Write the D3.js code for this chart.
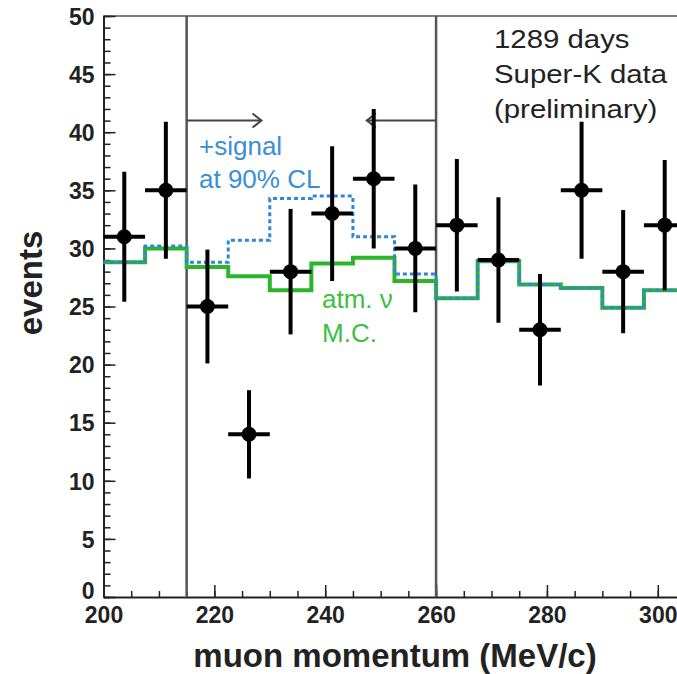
<!DOCTYPE html>
<html>
<head>
<meta charset="utf-8">
<script src="https://cdn.jsdelivr.net/npm/d3@7"></script>
<style>
  body { margin: 0; background: #fff; }
  svg { display: block; font-family: "Liberation Sans", Arial, sans-serif; }
  .axis path, .axis line { stroke: #222; }
  .axis text { font-weight: bold; fill: #222; }
</style>
</head>
<body>
<div class="chart"></div>
<script>
// bin edges (MeV/c), 7.5 MeV wide
var binEdges = [200, 207.5, 215, 222.5, 230, 237.5, 245, 252.5, 260, 267.5, 275, 282.5, 290, 297.5, 305];
// observed events per bin and their error bars
var dataCounts = [31, 35, 25, 14, 28, 33, 36, 30, 32, 29, 23, 35, 28, 32];
var dataErrors = [5.6, 5.9, 4.9, 3.8, 5.4, 5.8, 6.0, 5.5, 5.7, 5.4, 4.8, 5.9, 5.3, 5.6];
// atm. nu Monte Carlo
var mcCounts = [28.8, 30.0, 28.4, 27.6, 26.4, 28.7, 29.2, 27.2, 25.7, 28.9, 26.9, 26.6, 24.9, 26.4];
// MC + signal at 90% CL
var sigCounts = [28.8, 30.2, 28.8, 30.7, 34.3, 34.5, 31.0, 27.8, 25.7, 28.9, 26.9, 26.6, 24.9, 26.4];
var xTicks = [200, 220, 240, 260, 280, 300];
var yTicks = [0, 5, 10, 15, 20, 25, 30, 35, 40, 45, 50];
// signal window cuts
var cutLow = 215, cutHigh = 260, arrowAt = 41;

var outerWidth = 677, outerHeight = 674;
var margin = {top: 16, left: 103.5},
    width = 582,
    height = 581;

var x = d3.scaleLinear().domain([200, 305]).range([0, width]);
var y = d3.scaleLinear().domain([0, 50]).range([height, 0]);

var outer = d3.select(".chart").append("svg")
  .attr("width", outerWidth)
  .attr("height", outerHeight);

var svg = outer.append("g")
  .attr("transform", "translate(" + margin.left + "," + margin.top + ")");

// frame top line
svg.append("line")
  .attr("x1", 0).attr("x2", width)
  .attr("y1", 0).attr("y2", 0)
  .attr("stroke", "#555").attr("stroke-width", 1.5);

// minor ticks
svg.append("g").attr("class", "axis")
  .attr("transform", "translate(0," + height + ")")
  .call(d3.axisBottom(x).ticks(21).tickSize(-6).tickFormat(""))
  .call(function(g){ g.select(".domain").remove(); })
  .selectAll("line").attr("stroke-width", 1.5);
svg.append("g").attr("class", "axis")
  .call(d3.axisLeft(y).ticks(50).tickSize(-7).tickFormat(""))
  .call(function(g){ g.select(".domain").remove(); })
  .selectAll("line").attr("stroke-width", 1.5);

// major ticks + labels
var xAxis = svg.append("g").attr("class", "axis")
  .attr("transform", "translate(0," + height + ")")
  .call(d3.axisBottom(x).tickValues(xTicks).tickSize(-12).tickPadding(10).tickSizeOuter(0));
xAxis.selectAll("text").style("font-size", "23px");
xAxis.selectAll("line").attr("stroke-width", 1.5);
xAxis.select(".domain").attr("stroke-width", 2);

var yAxis = svg.append("g").attr("class", "axis")
  .call(d3.axisLeft(y).tickValues(yTicks).tickSize(-12).tickPadding(9).tickSizeOuter(0));
yAxis.selectAll("text").style("font-size", "23px")
  .attr("dy", function(d){ return d === 0 ? "0.05em" : "0.36em"; });
yAxis.selectAll("line").attr("stroke-width", 1.5);
yAxis.select(".domain").attr("stroke-width", 2);

// cut lines
[cutLow, cutHigh].forEach(function(c){
  svg.append("line")
    .attr("x1", x(c)).attr("x2", x(c))
    .attr("y1", 0).attr("y2", height)
    .attr("stroke", "#555").attr("stroke-width", 2.5);
});

// arrows
function arrow(from, to){
  var dir = to > from ? 1 : -1;
  var g = svg.append("g").attr("stroke", "#444").attr("fill", "none").attr("stroke-width", 2);
  g.append("line")
    .attr("x1", x(from)).attr("x2", x(to))
    .attr("y1", y(arrowAt)).attr("y2", y(arrowAt));
  g.append("path")
    .attr("d", "M" + (x(to) - dir * 9) + "," + (y(arrowAt) - 7) +
               "L" + x(to) + "," + y(arrowAt) +
               "L" + (x(to) - dir * 9) + "," + (y(arrowAt) + 7));
}
arrow(cutLow, 228.5);
arrow(cutHigh, 247.5);

// histograms
var step = d3.line()
  .x(function(d){ return x(d[0]); })
  .y(function(d){ return y(d[1]); })
  .curve(d3.curveStepAfter);

function histPoints(vals){
  var pts = vals.map(function(v, i){ return [binEdges[i], v]; });
  pts.push([binEdges[binEdges.length - 1], vals[vals.length - 1]]);
  return pts;
}

svg.append("path")
  .attr("d", step(histPoints(mcCounts)))
  .attr("fill", "none")
  .attr("stroke", "#2bb52b")
  .attr("stroke-width", 4);

svg.append("path")
  .attr("d", step(histPoints(sigCounts)))
  .attr("fill", "none")
  .attr("stroke", "#2f86d6")
  .attr("stroke-width", 3)
  .attr("stroke-dasharray", "4 3");

// data points
var pts = svg.append("g").selectAll("g")
  .data(dataCounts)
  .enter().append("g");

pts.append("line")
  .attr("x1", function(d, i){ return x(binEdges[i]); })
  .attr("x2", function(d, i){ return x(binEdges[i + 1]); })
  .attr("y1", function(d){ return y(d); })
  .attr("y2", function(d){ return y(d); })
  .attr("stroke", "#000").attr("stroke-width", 4);

pts.append("line")
  .attr("x1", function(d, i){ return x((binEdges[i] + binEdges[i + 1]) / 2); })
  .attr("x2", function(d, i){ return x((binEdges[i] + binEdges[i + 1]) / 2); })
  .attr("y1", function(d, i){ return y(d + dataErrors[i]); })
  .attr("y2", function(d, i){ return y(d - dataErrors[i]); })
  .attr("stroke", "#000").attr("stroke-width", 4);

pts.append("circle")
  .attr("cx", function(d, i){ return x((binEdges[i] + binEdges[i + 1]) / 2); })
  .attr("cy", function(d){ return y(d); })
  .attr("r", 7.5)
  .attr("fill", "#000");

// annotations
var note = outer.append("g").style("font-size", "26px");
var info = ["1289 days", "Super-K data", "(preliminary)"];
info.forEach(function(t, i){
  note.append("text")
    .attr("transform", "translate(494," + (48 + i * 35) + ") scale(1.13,1)")
    .attr("fill", "#222").text(t);
});

note.append("text").attr("x", 199).attr("y", 155).attr("fill", "#3a8ed8").text("+signal");
note.append("text").attr("x", 199).attr("y", 188).attr("fill", "#3a8ed8").text("at 90% CL");

note.append("text").attr("x", 322).attr("y", 308).attr("fill", "#3cbf45").text("atm. \u03bd");
note.append("text").attr("x", 322).attr("y", 342).attr("fill", "#3cbf45").text("M.C.");

// axis titles
outer.append("text")
  .attr("transform", "translate(42,283) rotate(-90)")
  .attr("text-anchor", "middle")
  .style("font-size", "33px").style("font-weight", "bold").attr("fill", "#222")
  .text("events");

outer.append("text")
  .attr("x", 395).attr("y", 667)
  .attr("text-anchor", "middle")
  .style("font-size", "33px").style("font-weight", "bold").attr("fill", "#222")
  .text("muon momentum (MeV/c)");
</script>
</body>
</html>
